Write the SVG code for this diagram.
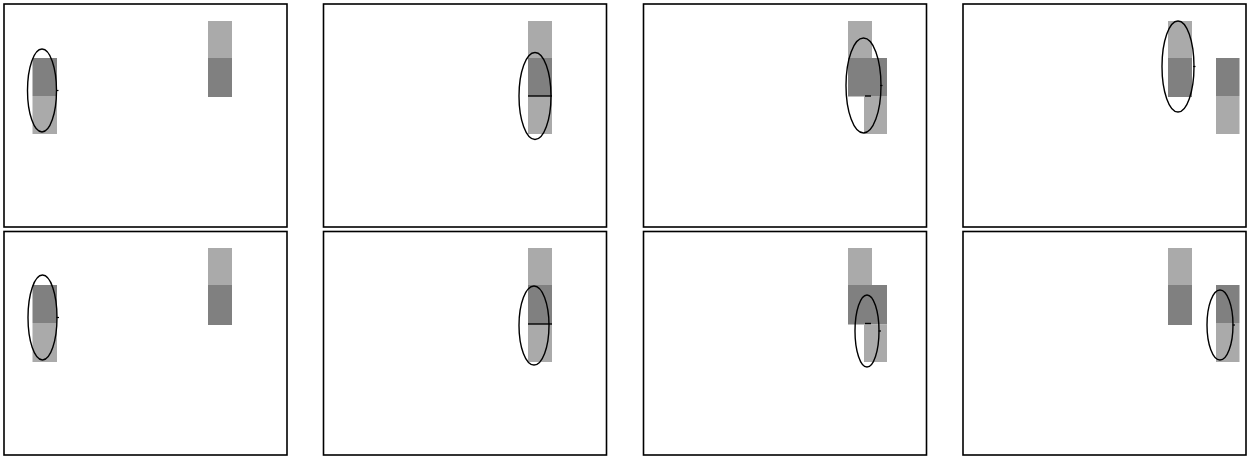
<svg xmlns="http://www.w3.org/2000/svg" width="1249" height="457" viewBox="0 0 1249 457">
<style>
.frame{fill:#fff;stroke:#000;stroke-width:1.6}
.lt{fill:#aaaaaa}
.dk{fill:#808080}
.el{fill:none;stroke:#000;stroke-width:1.4}
.ln{stroke:#000;stroke-width:1.4}
.tk{stroke:#000;stroke-width:1.2}
</style>
<rect width="1249" height="457" fill="#fff"/>
<g id="panel1">
<rect class="frame" x="4" y="4" width="283" height="223"/>
<rect class="dk" x="32.5" y="58" width="24.5" height="38"/>
<rect class="lt" x="32.5" y="96" width="24.5" height="38"/>
<rect class="lt" x="208" y="21" width="24" height="37"/>
<rect class="dk" x="208" y="58" width="24" height="39"/>
<ellipse class="el" cx="42" cy="90.5" rx="14.5" ry="41.5"/>
<line class="tk" x1="56" y1="90.5" x2="58.5" y2="90.5"/>
</g>
<g id="panel2">
<rect class="frame" x="323.5" y="4" width="283" height="223"/>
<rect class="lt" x="528" y="21" width="24" height="37"/>
<rect class="dk" x="528" y="58" width="24" height="38"/>
<rect class="lt" x="528" y="96" width="24" height="38"/>
<line class="ln" x1="528" y1="96" x2="552" y2="96"/>
<ellipse class="el" cx="535" cy="96" rx="16" ry="43.5"/>
</g>
<g id="panel3">
<rect class="frame" x="643.5" y="4" width="283" height="223"/>
<rect class="lt" x="848" y="21" width="24" height="37"/>
<rect class="dk" x="848" y="58" width="39" height="38.5"/>
<rect class="lt" x="864" y="96" width="23" height="38"/>
<line class="ln" x1="865" y1="96" x2="871" y2="96"/>
<ellipse class="el" cx="863.5" cy="85.5" rx="17.5" ry="47.5"/>
<line class="tk" x1="880" y1="85.5" x2="882.5" y2="85.5"/>
</g>
<g id="panel4">
<rect class="frame" x="963" y="4" width="283" height="223"/>
<rect class="lt" x="1168" y="21" width="24" height="37"/>
<rect class="dk" x="1168" y="58" width="24" height="39"/>
<rect class="dk" x="1216" y="58" width="23.5" height="38"/>
<rect class="lt" x="1216" y="96" width="23.5" height="38"/>
<ellipse class="el" cx="1178" cy="66.5" rx="16" ry="45.5"/>
<line class="tk" x1="1193" y1="66.5" x2="1195.5" y2="66.5"/>
</g>
<g id="panel5">
<rect class="frame" x="4" y="231.5" width="283" height="223.5"/>
<rect class="dk" x="32.5" y="285" width="24.5" height="38"/>
<rect class="lt" x="32.5" y="323" width="24.5" height="39"/>
<rect class="lt" x="208" y="248" width="24" height="37"/>
<rect class="dk" x="208" y="285" width="24" height="40"/>
<ellipse class="el" cx="42.5" cy="317.5" rx="14.5" ry="42.5"/>
<line class="tk" x1="56.5" y1="317.5" x2="59" y2="317.5"/>
</g>
<g id="panel6">
<rect class="frame" x="323.5" y="231.5" width="283" height="223.5"/>
<rect class="lt" x="528" y="248" width="24" height="37"/>
<rect class="dk" x="528" y="285" width="24" height="39"/>
<rect class="lt" x="528" y="324" width="24" height="38"/>
<line class="ln" x1="528" y1="324" x2="552" y2="324"/>
<ellipse class="el" cx="534" cy="325.5" rx="15" ry="39.5"/>
</g>
<g id="panel7">
<rect class="frame" x="643.5" y="231.5" width="283" height="223.5"/>
<rect class="lt" x="848" y="248" width="24" height="37"/>
<rect class="dk" x="848" y="285" width="39" height="39.5"/>
<rect class="lt" x="864" y="324.5" width="23" height="37.5"/>
<line class="ln" x1="865" y1="323.5" x2="871" y2="323.5"/>
<ellipse class="el" cx="867" cy="331" rx="12" ry="36"/>
<line class="tk" x1="878.5" y1="331" x2="881" y2="331"/>
</g>
<g id="panel8">
<rect class="frame" x="963" y="231.5" width="283" height="223.5"/>
<rect class="lt" x="1168" y="248" width="24" height="37"/>
<rect class="dk" x="1168" y="285" width="24" height="40"/>
<rect class="dk" x="1216" y="285" width="23.5" height="38"/>
<rect class="lt" x="1216" y="323" width="23.5" height="39"/>
<ellipse class="el" cx="1220" cy="325" rx="13" ry="35"/>
<line class="tk" x1="1232.5" y1="325" x2="1235" y2="325"/>
</g>
<g id="connectors"/>
</svg>
